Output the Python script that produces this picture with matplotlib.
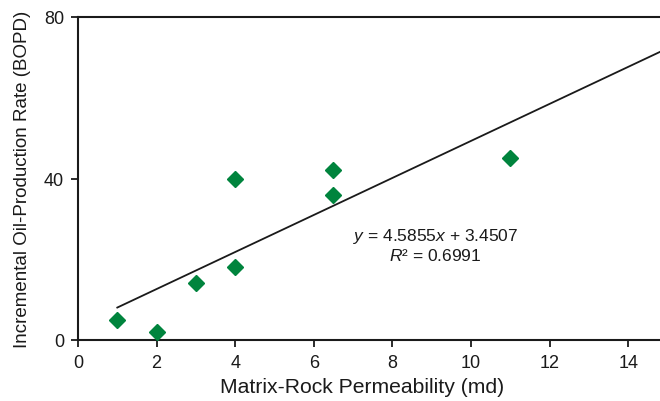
import numpy as np
import matplotlib
matplotlib.use("Agg")
import matplotlib.pyplot as plt

plt.rcParams['font.family'] = ['Liberation Sans', 'DejaVu Sans']
plt.rcParams['mathtext.fontset'] = 'custom'
plt.rcParams['mathtext.rm'] = 'Liberation Sans'
plt.rcParams['mathtext.it'] = 'Liberation Sans:italic'

permeability = [1, 2, 3, 4, 4, 6.5, 6.5, 11]
oil_rate = [5, 2, 14, 18, 40, 42, 36, 45]
slope = 4.5855
intercept = 3.4507
r_squared = 0.6991
x_ticks = [0, 2, 4, 6, 8, 10, 12, 14]
y_ticks = [0, 40, 80]

fig = plt.figure(figsize=(6.6, 4.02), dpi=100)
ax = fig.add_axes([78 / 660, 61 / 402, (660 - 78) / 660, 323 / 402])

# trend line from the first data point to beyond the plot edge
xl = np.array([min(permeability), 16.0])
ax.plot(xl, slope * xl + intercept, color='#1a1a1a', lw=1.3, zorder=2)

ax.plot(permeability, oil_rate, linestyle='none', marker='D', markersize=8.5,
        color='#00843D', markeredgecolor='#00843D', zorder=3)

ax.set_xlim(0, 14.81)
ax.set_ylim(0, 80)
ax.set_xticks(x_ticks)
ax.set_yticks(y_ticks)
ax.tick_params(direction='out', length=5, width=1.3, labelsize=13,
               colors='#1a1a1a', pad=5)

for side in ('left', 'bottom', 'top'):
    ax.spines[side].set_linewidth(1.5)
    ax.spines[side].set_color('#1a1a1a')
ax.spines['right'].set_visible(False)

ax.set_xlabel('Matrix-Rock Permeability (md)', fontsize=15.2, color='#1a1a1a')
ax.xaxis.set_label_coords(0.488, -0.115)
ax.set_ylabel('Incremental Oil-Production Rate (BOPD)', fontsize=13.5,
              color='#1a1a1a', labelpad=9)

ax.text(9.1, 25.8, f'$\\it{{y}}$ = {slope}$\\it{{x}}$ + {intercept}',
        ha='center', va='center', fontsize=12.5, color='#1a1a1a')
ax.text(9.1, 21.0, f'$\\it{{R}}$\u00b2 = {r_squared}',
        ha='center', va='center', fontsize=12.5, color='#1a1a1a')

fig.savefig('out.png', dpi=100)
